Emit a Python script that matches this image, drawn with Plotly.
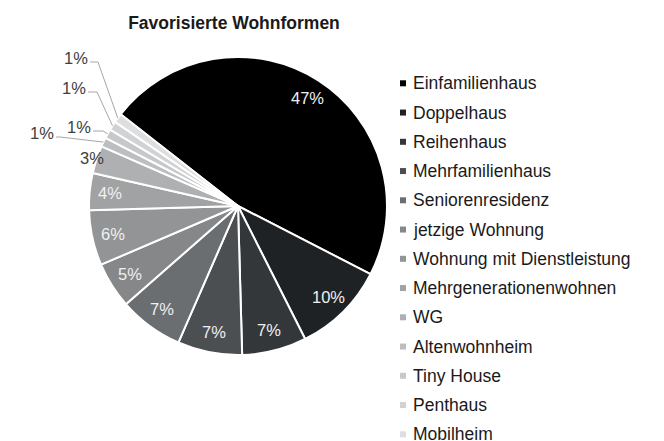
import math
import plotly.graph_objects as go

# data
categories = ["Einfamilienhaus", "Doppelhaus", "Reihenhaus", "Mehrfamilienhaus",
              "Seniorenresidenz", "jetzige Wohnung", "Wohnung mit Dienstleistung",
              "Mehrgenerationenwohnen", "WG", "Altenwohnheim", "Tiny House",
              "Penthaus", "Mobilheim"]
shares = [47, 10, 7, 7, 7, 5, 6, 4, 3, 1, 1, 1, 1]
pct_text = [f"{v}%" for v in shares]
title = "Favorisierte Wohnformen"

# styles
colors = ["#000000", "#1f2225", "#33373a", "#4c4f51", "#6b6e70", "#858789",
          "#929496", "#a0a2a4", "#aeb0b2", "#bcbec0", "#c6c8ca", "#d0d2d4", "#dcdedf"]
FONT = "Liberation Sans, Arial, sans-serif"
W, H = 664, 441
OFF = 8  # default body margin of the html page
FW, FH = W - OFF, H - OFF
CX, CY, R = 238, 206, 149
ROT = -52

# window pixels -> paper coords
def px(x):
    return (x - OFF) / FW

def py(y):
    return 1 - (y - OFF) / FH

fig = go.Figure(go.Pie(
    labels=categories, values=shares, sort=False, direction="clockwise",
    rotation=ROT, textinfo="none", showlegend=False,
    marker=dict(colors=colors, line=dict(color="white", width=2)),
    domain=dict(x=[px(CX - R), px(CX + R)], y=[py(CY + R), py(CY - R)]),
))

# slice mid angles from data
total = sum(shares)
mids = []
cum = 0
for v in shares:
    mids.append(math.radians(ROT + 360 * (cum + v / 2) / total))
    cum += v

def on_ray(a, f):
    return CX + f * R * math.sin(a), CY - f * R * math.cos(a)

annotations = []
shapes = []

def label(x, y, txt, color):
    annotations.append(dict(x=px(x), y=py(y), xref="paper", yref="paper",
                            xanchor="center", yanchor="middle",
                            text=txt, showarrow=False,
                            font=dict(family=FONT, size=16.5, color=color)))

# labels inside the big slices, 3% just outside
for i in range(9):
    f = 0.86 if i < 8 else 1.03
    x, y = on_ray(mids[i], f)
    label(x, y, pct_text[i], "#f0f0f0" if i < 8 else "#404040")

# small slices: labels with leader lines (label centre x, y, elbow x)
small_pos = {9: (42, 133, 60), 10: (79, 127, 103), 11: (74, 88, 97), 12: (76, 58, 98)}
for i, (lx, ly, ex) in small_pos.items():
    label(lx, ly, pct_text[i], "#404040")
    x0 = lx + 14
    y0 = ly + 4
    tx, ty = on_ray(mids[i], 1.0)
    shapes.append(dict(type="path", xref="paper", yref="paper",
                       path=f"M {px(x0)},{py(y0)} L {px(ex)},{py(y0)} L {px(tx)},{py(ty)}",
                       line=dict(color="#a6a6a6", width=1)))

# legend drawn by hand
for i, name in enumerate(categories):
    yc = 83.3 + 29.25 * i
    shapes.append(dict(type="rect", xref="paper", yref="paper",
                       x0=px(400), x1=px(406), y0=py(yc + 3), y1=py(yc - 3),
                       fillcolor=colors[i], line=dict(width=0)))
    annotations.append(dict(x=px(411), y=py(yc), xref="paper", yref="paper",
                            xanchor="left", yanchor="middle", text=name, showarrow=False,
                            font=dict(family=FONT, size=17.5, color="#1a1a1a")))

fig.update_layout(
    width=FW, height=FH,
    margin=dict(l=0, r=0, t=0, b=0),
    paper_bgcolor="white", plot_bgcolor="white",
    title=dict(text=f"<b>{title}</b>", x=px(234), xanchor="center",
               y=py(23), yanchor="middle",
               font=dict(family=FONT, size=17.5, color="#1a1a1a")),
    annotations=annotations, shapes=shapes,
)

fig.write_html("out.html")
